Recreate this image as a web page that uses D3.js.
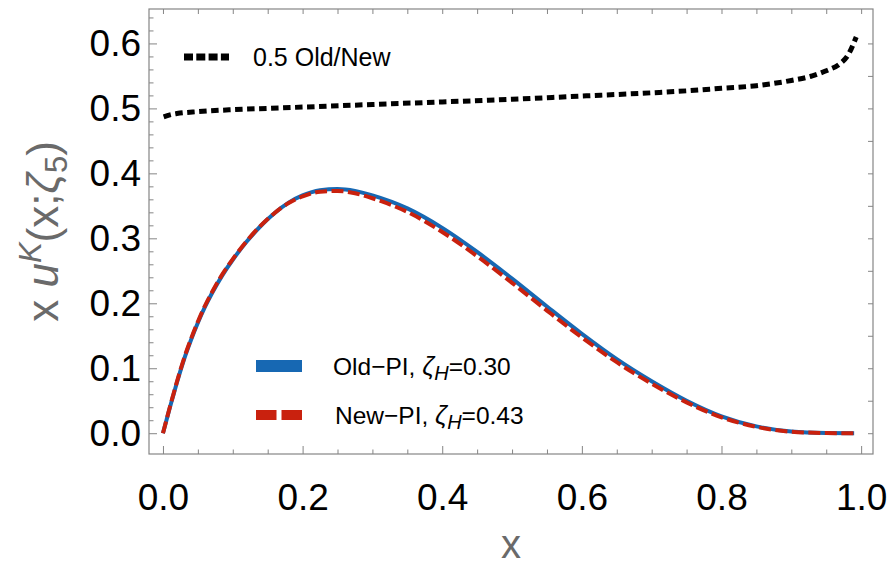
<!DOCTYPE html>
<html>
<head>
<meta charset="utf-8">
<script src="https://cdn.jsdelivr.net/npm/d3@7/dist/d3.min.js"></script>
<style>
  html, body { margin: 0; padding: 0; background: #fff; }
  svg { display: block; }
  text { font-family: "Liberation Sans", Arial, Helvetica, sans-serif; }
</style>
</head>
<body>
<svg id="chart" width="894" height="568"></svg>
<script>
// Sample points along x
const xs = [0, 0.005, 0.01, 0.015, 0.02, 0.025, 0.03, 0.04, 0.05, 0.06, 0.07, 0.085, 0.1, 0.12, 0.14, 0.16, 0.18, 0.2,
            0.225, 0.25, 0.275, 0.3, 0.35, 0.4, 0.45, 0.5, 0.55, 0.6, 0.65, 0.7, 0.75, 0.8, 0.85, 0.9, 0.95, 0.99];

// x u^K(x; zeta_5), Old-PI
const oldPI = [0, 0.020, 0.040, 0.059, 0.078, 0.096, 0.113, 0.143, 0.170, 0.194, 0.215, 0.243, 0.267, 0.295, 0.319, 0.339, 0.355, 0.366,
               0.374, 0.376, 0.373, 0.366, 0.346, 0.316, 0.279, 0.238, 0.195, 0.153, 0.114, 0.080, 0.050, 0.026, 0.0105, 0.0025, 0.0003, 0];

// x u^K(x; zeta_5), New-PI
const newPI = [0, 0.0204, 0.0408, 0.0601, 0.0793, 0.0975, 0.1146, 0.1447, 0.1717, 0.1958, 0.2167, 0.2445, 0.2681, 0.2959, 0.3196, 0.3390, 0.3543, 0.3645,
               0.3718, 0.3730, 0.3693, 0.3617, 0.3406, 0.3098, 0.2725, 0.2315, 0.1888, 0.1474, 0.1093, 0.0763, 0.0474, 0.0245, 0.0098, 0.0023, 0.0003, 0];

// 0.5 * Old/New ratio
const ratioX = [0.001, 0.01, 0.02, 0.05, 0.1, 0.15, 0.2, 0.3, 0.4, 0.5, 0.6, 0.7, 0.75, 0.8, 0.85, 0.9, 0.93, 0.95, 0.97, 0.98, 0.993];
const ratioY = [0.487, 0.490, 0.492, 0.495, 0.498, 0.500, 0.502, 0.506, 0.510, 0.514, 0.519, 0.524, 0.527, 0.531, 0.535, 0.543, 0.550, 0.558, 0.569, 0.580, 0.610];

const xTicks = [0, 0.2, 0.4, 0.6, 0.8, 1.0];
const xTickLabels = ["0.0", "0.2", "0.4", "0.6", "0.8", "1.0"];
const yTicks = [0, 0.1, 0.2, 0.3, 0.4, 0.5, 0.6];
const yTickLabels = ["0.0", "0.1", "0.2", "0.3", "0.4", "0.5", "0.6"];

const BLUE = "#1768b3";
const RED = "#c9210e";
const AXIS = "#858585";
const LABEL = "#6a6a6a";

const svg = d3.select("#chart");
const L = 149, R = 873, T = 9, B = 454;

const x = d3.scaleLinear().domain([-0.02, 1.017]).range([L, R]);
const y = d3.scaleLinear().domain([-0.032, 0.653]).range([B, T]);

const minorX = d3.range(0, 1.0001, 0.05).map(v => +v.toFixed(2)).filter(v => !xTicks.some(t => Math.abs(t - v) < 1e-9));
const minorY = d3.range(0, 0.6401, 0.02).map(v => +v.toFixed(2)).filter(v => !yTicks.some(t => Math.abs(t - v) < 1e-9));
const frameX = d3.range(0, 1.0001, 0.05).map(v => +v.toFixed(2));
const frameY = d3.range(0, 0.6401, 0.05).map(v => +v.toFixed(2));

function styleAxis(g) {
  g.select(".domain").remove();
  g.selectAll(".tick line").attr("stroke", AXIS).attr("stroke-width", 1);
  g.selectAll(".tick text").attr("fill", "#000").attr("font-size", 37);
}

// Bottom axis: majors with labels, minors without
svg.append("g").attr("transform", `translate(0,${B})`)
  .call(d3.axisBottom(x).tickValues(xTicks).tickSizeInner(-8).tickSizeOuter(0).tickPadding(30)
        .tickFormat((d, i) => xTickLabels[i]))
  .call(styleAxis);
svg.append("g").attr("transform", `translate(0,${B})`)
  .call(d3.axisBottom(x).tickValues(minorX).tickSizeInner(-4.5).tickSizeOuter(0).tickFormat(""))
  .call(styleAxis);

// Left axis
svg.append("g").attr("transform", `translate(${L},0)`)
  .call(d3.axisLeft(y).tickValues(yTicks).tickSizeInner(-8).tickSizeOuter(0).tickPadding(8)
        .tickFormat((d, i) => yTickLabels[i]))
  .call(styleAxis);
svg.append("g").attr("transform", `translate(${L},0)`)
  .call(d3.axisLeft(y).tickValues(minorY).tickSizeInner(-4.5).tickSizeOuter(0).tickFormat(""))
  .call(styleAxis);

// Top and right frame ticks
svg.append("g").attr("transform", `translate(0,${T})`)
  .call(d3.axisTop(x).tickValues(frameX).tickSizeInner(-5).tickSizeOuter(0).tickFormat(""))
  .call(styleAxis);
svg.append("g").attr("transform", `translate(${R},0)`)
  .call(d3.axisRight(y).tickValues(frameY).tickSizeInner(-5).tickSizeOuter(0).tickFormat(""))
  .call(styleAxis);

// Frame
svg.append("rect").attr("x", L).attr("y", T).attr("width", R - L).attr("height", B - T)
  .attr("fill", "none").attr("stroke", AXIS).attr("stroke-width", 1.2);

// Curves
const line = d3.line().x(d => x(d[0])).y(d => y(d[1])).curve(d3.curveMonotoneX);

svg.append("path").datum(xs.map((v, i) => [v, oldPI[i]]))
  .attr("d", line).attr("fill", "none").attr("stroke", BLUE).attr("stroke-width", 4);
svg.append("path").datum(xs.map((v, i) => [v, newPI[i]]))
  .attr("d", line).attr("fill", "none").attr("stroke", RED).attr("stroke-width", 4)
  .attr("stroke-dasharray", "12,4.5");
svg.append("path").datum(ratioX.map((v, i) => [v, ratioY[i]]))
  .attr("d", line).attr("fill", "none").attr("stroke", "#000").attr("stroke-width", 5)
  .attr("stroke-dasharray", "7.5,4.5");

// Legends
svg.append("line").attr("x1", 184).attr("x2", 229).attr("y1", 57).attr("y2", 57)
  .attr("stroke", "#000").attr("stroke-width", 7).attr("stroke-dasharray", "9,3.3");
svg.append("text").attr("x", 253).attr("y", 65.5).attr("font-size", 25).attr("fill", "#000")
  .text("0.5 Old/New");

svg.append("line").attr("x1", 256).attr("x2", 302).attr("y1", 366).attr("y2", 366)
  .attr("stroke", BLUE).attr("stroke-width", 12);
svg.append("line").attr("x1", 256).attr("x2", 302).attr("y1", 415).attr("y2", 415)
  .attr("stroke", RED).attr("stroke-width", 10).attr("stroke-dasharray", "20.5,5");

function legendText(xp, yp, name, val) {
  const t = svg.append("text").attr("x", xp).attr("y", yp).attr("font-size", 24.5).attr("fill", "#000");
  t.append("tspan").text(name + ", ");
  t.append("tspan").attr("font-style", "italic").attr("font-size", 26).text("ζ");
  t.append("tspan").attr("font-style", "italic").attr("font-size", 20).attr("dy", 5).text("H");
  t.append("tspan").attr("dy", -5).text("=" + val);
}
legendText(333, 374.5, "Old\u2212PI", "0.30");
legendText(335, 423.5, "New\u2212PI", "0.43");

// Axis titles
svg.append("text").attr("x", (L + R) / 2).attr("y", 558).attr("text-anchor", "middle")
  .attr("font-size", 40).attr("fill", LABEL).text("x");

const yl = svg.append("text").attr("transform", `translate(58,${(T + B) / 2}) rotate(-90)`)
  .attr("text-anchor", "middle").attr("font-size", 44).attr("fill", LABEL);
yl.append("tspan").text("x ");
yl.append("tspan").attr("font-style", "italic").text("u");
yl.append("tspan").attr("font-style", "italic").attr("font-size", 31).attr("dy", -17).text("K");
yl.append("tspan").attr("dy", 17).text("(x;");
yl.append("tspan").attr("font-style", "italic").text("ζ");
yl.append("tspan").attr("font-size", 31).attr("dy", 9).text("5");
yl.append("tspan").attr("dy", -9).text(")");
</script>
</body>
</html>
